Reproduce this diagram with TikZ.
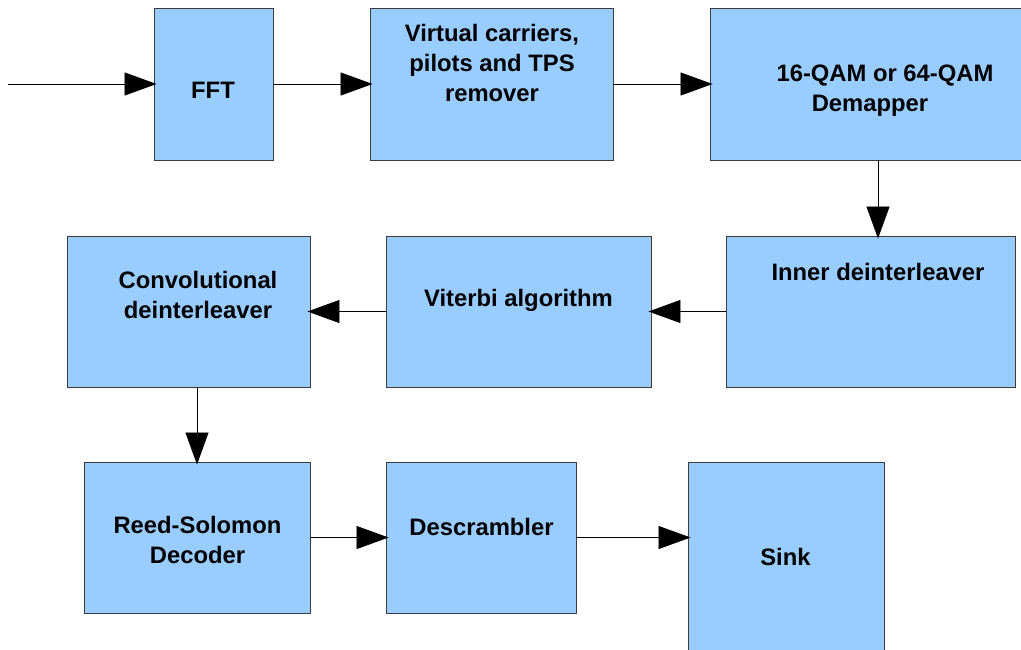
\documentclass[tikz,border=0pt]{standalone}
\usepackage{fontspec}
\setmainfont{Liberation Sans}
\usetikzlibrary{arrows.meta}
\definecolor{boxblue}{RGB}{153,204,255}
\definecolor{boxline}{RGB}{60,60,60}
\tikzset{
  blk/.style={draw=boxline, fill=boxblue, line width=0.9pt, rectangle, inner sep=0pt},
  txt/.style={anchor=north, inner sep=0pt, align=center, font=\fontsize{23.8}{30}\selectfont\bfseries},
  arr/.style={line width=0.8pt, -{Triangle[length=32pt,width=23pt]}, shorten >=-3pt},
}
\newcommand{\boxat}[5]{% name, x1, y1, x2, y2
  \node[blk, minimum width={(#4-#2)*1pt}, minimum height={(#5-#3)*1pt}] (#1) at ({(#2+#4)/2},{(#3+#5)/2}) {};}
\begin{document}
\begin{tikzpicture}[x=1pt,y=-1pt]
\useasboundingbox (0,0) rectangle (1021,649);
\clip (0,0) rectangle (1021,649);
\fill[white] (0,0) rectangle (1021,649);
% boxes
\boxat{fft}{154}{8}{273}{160}
\boxat{vc}{370}{8}{613}{160}
\boxat{qam}{710}{8}{1046}{160}
\boxat{inner}{726}{236}{1015}{387}
\boxat{vit}{386}{236}{651}{387}
\boxat{conv}{67}{236}{310}{387}
\boxat{rs}{84}{462}{310}{613}
\boxat{desc}{386}{462}{576}{613}
\boxat{sink}{688}{462}{884}{700}
% texts
\node[txt] (fft-t) at (213,81.5) {FFT};
\node[txt] (vc-t) at (492,24) {Virtual carriers,\\pilots and TPS\\remover};
\node[txt] (qam-t) at (885,64.5) {16-QAM or 64-QAM\\Demapper\hspace*{30pt}};
\node[txt] (inner-t) at (878,263.5) {Inner deinterleaver};
\node[txt] (vit-t) at (518.5,289.5) {Viterbi algorithm};
\node[txt] (conv-t) at (198,271) {Convolutional\\deinterleaver};
\node[txt] (rs-t) at (197.5,516) {Reed-Solomon\\Decoder};
\node[txt] (desc-t) at (481.5,518.5) {Descrambler};
\node[txt] (sink-t) at (785.5,548.5) {Sink};
% connectors
\coordinate (in) at (8,84);
\draw[arr] (in) -- (fft.west);
\draw[arr] (fft.east) -- (vc.west);
\draw[arr] (vc.east) -- (qam.west);
\draw[arr] (qam.south) -- (qam.south |- inner.north);
\draw[arr] (inner.west) -- (vit.east);
\draw[arr] (vit.west) -- (conv.east);
\draw[arr] (conv.south -| rs.north) -- (rs.north);
\draw[arr] (rs.east) -- (desc.west);
\draw[arr] (desc.east) -- (desc.east -| sink.west);
\end{tikzpicture}
\end{document}
